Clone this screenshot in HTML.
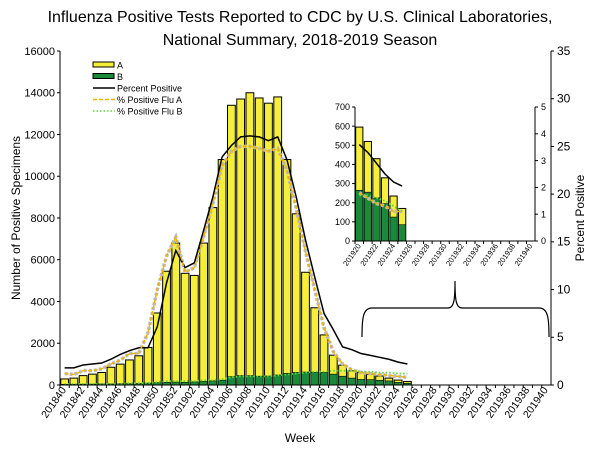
<!DOCTYPE html>
<html><head><meta charset="utf-8"><style>
body{margin:0;background:#fff;font-family:"Liberation Sans",Arial,sans-serif}
svg text{font-family:"Liberation Sans",Arial,sans-serif}
</style></head><body>
<svg id="c" width="600" height="450" xmlns="http://www.w3.org/2000/svg">
<text x="300" y="22" text-anchor="middle" font-size="16">Influenza Positive Tests Reported to CDC by U.S. Clinical Laboratories,</text>
<text x="300" y="45" text-anchor="middle" font-size="16">National Summary, 2018-2019 Season</text>
<g id="main"></g><g id="inset"></g>
<text x="300" y="442" text-anchor="middle" font-size="12">Week</text>
<text transform="translate(20,218) rotate(-90)" text-anchor="middle" font-size="12">Number of Positive Specimens</text>
<text transform="translate(584,218) rotate(-90)" text-anchor="middle" font-size="12">Percent Positive</text>
<path d="M362,337 C362,318 363,308 372,308 L448,308 C454,308 455,300 455,281 C455,300 456,308 462,308 L539,308 C548,308 549,318 549,337" fill="none" stroke="#000" stroke-width="1.2"/>
<g id="legend"></g>
</svg>
<script>
const weeks=["201840","201841","201842","201843","201844","201845","201846","201847","201848","201849","201850","201851","201852","201901","201902","201903","201904","201905","201906","201907","201908","201909","201910","201911","201912","201913","201914","201915","201916","201917","201918","201919","201920","201921","201922","201923","201924","201925","201926","201927","201928","201929","201930","201931","201932","201933","201934","201935","201936","201937","201938","201939","201940"];
const totalPos=[290,330,450,520,600,850,1000,1200,1400,1800,3450,5450,6800,5350,5250,6800,8500,10800,13400,13700,14000,13750,13500,13800,10800,8200,5400,3700,2400,1430,950,680,595,520,430,330,235,170];
const fluB=[30,30,40,40,50,50,60,60,70,90,110,130,140,130,150,170,200,230,400,450,450,420,430,480,560,600,620,600,600,520,420,330,265,255,225,195,125,85];
const pctPos=[1.8,1.8,2.1,2.2,2.3,2.7,3.2,3.6,3.9,3.9,6.1,10.7,14.1,12.3,12.8,16.2,19.7,23.9,25.1,26,26.1,26,25.6,26,23.6,19.7,15.2,11.3,7.5,5.8,4,3.7,3.3,3.1,2.9,2.7,2.4,2.2];
const pctA=[1.2,1.1,1.5,1.5,1.7,2.2,2.6,3.3,3.3,5.5,10,13.5,15.5,11.8,12.3,15.5,19,23,24.5,25,25,24.8,24.5,24.8,22.5,18.5,14,10,6,3.5,2.2,1.6,1.3,1.2,1.1,1.0,0.9,0.8];
const pctB=[0.1,0.1,0.1,0.1,0.1,0.1,0.1,0.2,0.2,0.2,0.3,0.4,0.4,0.4,0.4,0.5,0.5,0.6,0.8,0.9,0.9,0.9,0.9,1.0,1.1,1.2,1.3,1.4,1.4,1.5,1.5,1.5,1.4,1.4,1.3,1.3,1.2,1.2];
const leftTicks=[0,2000,4000,6000,8000,10000,12000,14000,16000];
const rightTicks=[0,5,10,15,20,25,30,35];
const insetWeeks=["201920","201921","201922","201923","201924","201925","201926","201927","201928","201929","201930","201931","201932","201933","201934","201935","201936","201937","201938","201939","201940"];
const insetTotal=[595,520,430,330,235,170];
const insetB=[265,255,225,195,125,85];
const insetPct=[3.6,3.3,2.9,2.5,2.2,2.05];
const insetPctA=[1.8,1.6,1.4,1.3,1.1,1.1];
const insetPctB=[1.7,1.7,1.6,1.5,1.3,1.1];
const insetLeftTicks=[0,100,200,300,400,500,600,700];
const insetRightTicks=[0,1,2,3,4,5];
const NS="http://www.w3.org/2000/svg";
function mk(p,t,a){const e=document.createElementNS(NS,t);for(const k in a)e.setAttribute(k,a[k]);p.appendChild(e);return e;}
function chart(g,o){
  const {x0,x1,y0,y1,ymax,pmax,cats,tot,b,pc,pa,pb,lt,rt,fs,lab}=o;
  const bw=(x1-x0)/cats.length;
  const X=i=>x0+bw*(i+0.5), Y=v=>y0-(v/ymax)*(y0-y1), P=v=>y0-(v/pmax)*(y0-y1);
  tot.forEach((v,i)=>{
    let r=mk(g,'rect',{x:X(i)-bw*0.42,y:Y(v),width:bw*0.84,height:Y(0)-Y(v),fill:'#f5ee3a',stroke:'#000','stroke-width':1});
    
    
    let r2=mk(g,'rect',{x:X(i)-bw*0.42,y:Y(b[i]),width:bw*0.84,height:Y(0)-Y(b[i]),fill:'#1a8a3a',stroke:'#000','stroke-width':0.6});
    
    
  });
  const line=(arr,st)=>{const l=mk(g,'polyline',Object.assign({points:arr.map((v,i)=>X(i)+','+P(v)).join(' '),fill:'none'},st));return l;};
  let l0=line(pa,{stroke:'#bbb','stroke-width':3.5,'stroke-dasharray':'3,2'});
  
  
  let l1=line(pc,{stroke:'#000','stroke-width':1.5});
  
  
  let l2=line(pa,{stroke:'#f0b400','stroke-width':1.5,'stroke-dasharray':'4,2'});
  
  
  let l3=line(pb,{stroke:'#5cd63a','stroke-width':1.8,'stroke-dasharray':'1.5,2'});
  
  
  mk(g,'line',{x1:x0,y1:y0,x2:x1,y2:y0,stroke:'#000'});
  mk(g,'line',{x1:x0,y1:y0,x2:x0,y2:y1,stroke:'#000'});
  mk(g,'line',{x1:x1,y1:y0,x2:x1,y2:y1,stroke:'#000'});
  lt.forEach(v=>{mk(g,'line',{x1:x0-3,y1:Y(v),x2:x0,y2:Y(v),stroke:'#000'});
    let t=mk(g,'text',{x:x0-5,y:Y(v)+fs*0.35,'text-anchor':'end','font-size':fs});t.textContent=v;
    
    });
  rt.forEach(v=>{mk(g,'line',{x1:x1,y1:P(v),x2:x1+3,y2:P(v),stroke:'#000'});
    let t=mk(g,'text',{x:x1+6,y:P(v)+fs*0.35,'font-size':o.rfs||fs});t.textContent=v;
    
    });
  cats.forEach((c,i)=>{mk(g,'line',{x1:x0+bw*i,y1:y0,x2:x0+bw*i,y2:y0+3,stroke:'#000'});
    if(i%2==0){let t=mk(g,'text',{transform:`translate(${X(i)+2},${y0+5}) rotate(-55)`,'text-anchor':'end','font-size':lab});t.textContent=c;
      
      }});
}
chart(document.getElementById('main'),{x0:60,x1:551,y0:385,y1:51,ymax:16000,pmax:35,cats:weeks,tot:totalPos,b:fluB,pc:pctPos,pa:pctA,pb:pctB,lt:leftTicks,rt:rightTicks,fs:11,rfs:12,lab:10.5});
chart(document.getElementById('inset'),{x0:355,x1:535,y0:241,y1:107,ymax:700,pmax:5,cats:insetWeeks,tot:insetTotal,b:insetB,pc:insetPct,pa:insetPctA,pb:insetPctB,lt:insetLeftTicks,rt:insetRightTicks,fs:9,lab:7.5});
document.querySelector('#inset line:nth-of-type(2)');
const lg=document.getElementById('legend');
const items=[["A","rect","#f5ee3a"],["B","rect","#1a8a3a"],["Percent Positive","line","#000",""],["% Positive Flu A","line","#f0b400","4,2"],["% Positive Flu B","line","#5cd63a","1.5,2"]];
items.forEach((it,i)=>{const y=65+i*11.5;
  if(it[1]=="rect")mk(lg,'rect',{x:93,y:y-3,width:21,height:5,fill:it[2],stroke:'#000'});
  else mk(lg,'line',{x1:93,y1:y,x2:115,y2:y,stroke:it[2],'stroke-width':1.6,'stroke-dasharray':it[3]||'none'});
  let t=mk(lg,'text',{x:117,y:y+3.5,'font-size':9});t.textContent=it[0];
  
  });
</script>
</body></html>
